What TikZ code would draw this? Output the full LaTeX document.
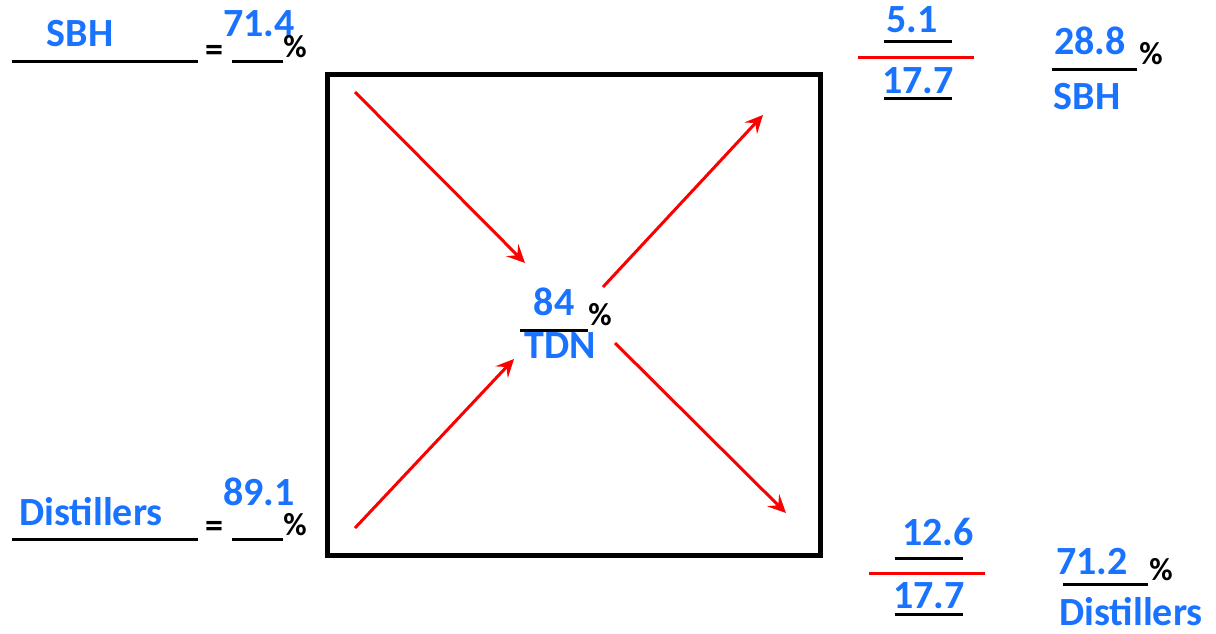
\documentclass[tikz,border=0pt]{standalone}
\usepackage{fontspec}
\setmainfont{Carlito}
\usetikzlibrary{arrows.meta}
\definecolor{txtblue}{RGB}{25,115,255}
\definecolor{arrred}{RGB}{250,0,0}

\begin{document}
\begin{tikzpicture}[x=1pt, y=-1pt,
    val/.style={anchor=base, inner sep=0pt, text=txtblue, font=\bfseries\fontsize{40}{44}\selectfont},
    pct/.style={anchor=base, inner sep=0pt, font=\bfseries\fontsize{32}{36}\selectfont},
    bar/.style={line width=3pt},
    redbar/.style={line width=3pt, arrred},
    flow/.style={arrred, line width=3pt, -{Stealth[length=18pt, width=17pt, inset=7pt]}}]

    \useasboundingbox (0,0) rectangle (1216,634);

    % box
    \draw[line width=5pt] (327.5,75) rectangle (820.5,555);

    % left side
    \node[val] (sbhL) at (80,47) {SBH};
    \node[val] (sbhV) at (259,37) {71.4};
    \node[pct, font=\bfseries\fontsize{36}{40}\selectfont] (eqA) at (214,62) {=};
    \node[pct] (pcA) at (295,58) {\%};
    \draw[bar] (12,62) -- (198,62);
    \draw[bar] (232,62) -- (283,62);

    \node[val] (disL) at (91,525) {Distillers};
    \node[val] (disV) at (259,505) {89.1};
    \node[pct, font=\bfseries\fontsize{36}{40}\selectfont] (eqB) at (214,537) {=};
    \node[pct] (pcB) at (295,535) {\%};
    \draw[bar] (12,539) -- (198,539);
    \draw[bar] (232,539) -- (283,539);

    % centre
    \node[val] (tdnV) at (554,315) {84};
    \node[pct] (pcC) at (600,325) {\%};
    \node[val] (tdnL) at (560,358) {TDN};
    \draw[bar] (520,330) -- (588,330);

    % right side
    \node[val] (sbhN) at (912,33) {5.1};
    \node[val] (sbhD) at (918,93) {17.7};
    \draw[bar] (884,42) -- (952,42);
    \draw[redbar] (858,58) -- (974,58);
    \draw[bar] (884,98) -- (952,98);
    \node[val] (sbhR) at (1090,55) {28.8};
    \node[pct] (pcD) at (1151,65) {\%};
    \node[val] (sbhT) at (1087,110) {SBH};
    \draw[bar] (1052,70) -- (1137,70);

    \node[val] (disN) at (938,545) {12.6};
    \node[val] (disD) at (929,608) {17.7};
    \draw[bar] (895,558) -- (963,558);
    \draw[redbar] (869,573) -- (985,573);
    \draw[bar] (895,614) -- (963,614);
    \node[val] (disR) at (1092,574) {71.2};
    \node[pct] (pcE) at (1161,580) {\%};
    \node[val] (disT) at (1131,625) {Distillers};
    \draw[bar] (1063,584) -- (1148,584);

    % arrows
    \coordinate (a1) at (355,92);   \coordinate (b1) at (525,263);
    \coordinate (a2) at (603,287);  \coordinate (b2) at (763,115);
    \coordinate (a3) at (355,528);  \coordinate (b3) at (514,359);
    \coordinate (a4) at (615,343);  \coordinate (b4) at (786,513);
    \draw[flow] (a1) -- (b1);
    \draw[flow] (a2) -- (b2);
    \draw[flow] (a3) -- (b3);
    \draw[flow] (a4) -- (b4);
\end{tikzpicture}
\end{document}
